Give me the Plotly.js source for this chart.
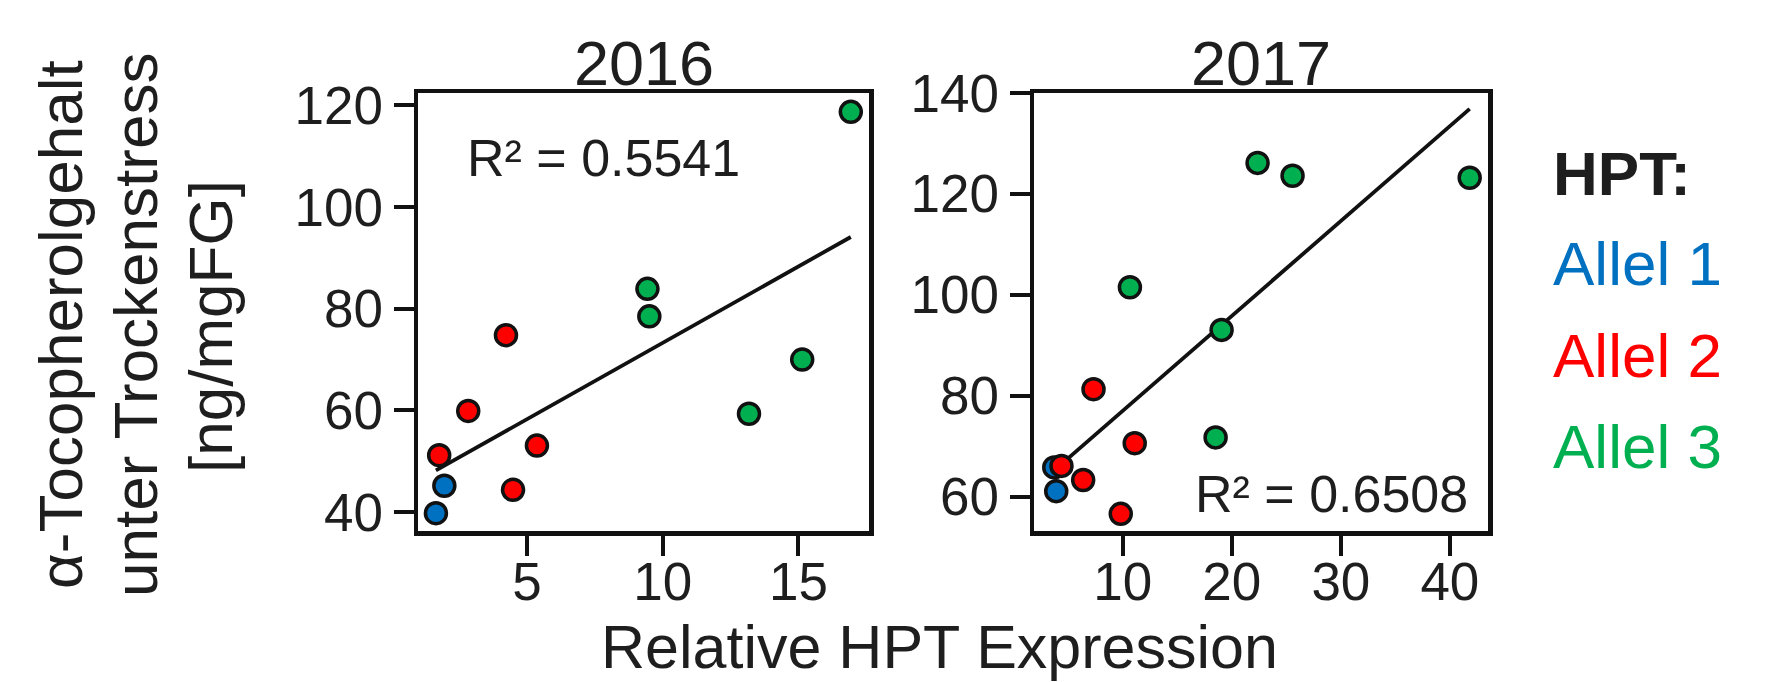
<!DOCTYPE html>
<html>
<head>
<meta charset="utf-8">
<script src="https://cdn.plot.ly/plotly-3.0.1.min.js"></script>
<style>html,body{margin:0;padding:0;background:#fff;}#chart{width:1773px;height:682px;}</style>
</head>
<body>
<div id="chart"></div>
<script>
// ---- Data ----
const alleles = ["Allel 1", "Allel 2", "Allel 3"];
const alleleColors = ["#0070C0", "#FF0000", "#00B050"];

// 2016
const x2016_a1 = [1.96, 1.65];
const y2016_a1 = [45.2, 39.8];
const x2016_a2 = [4.23, 2.84, 1.77, 5.37, 4.49];
const y2016_a2 = [74.8, 59.9, 51.2, 53.1, 44.4];
const x2016_a3 = [16.93, 9.44, 9.51, 15.14, 13.18];
const y2016_a3 = [118.7, 83.9, 78.5, 70.0, 59.35];

// 2017
const x2017_a1 = [3.71, 3.89];
const y2017_a1 = [65.8, 61.1];
const x2017_a2 = [7.31, 11.09, 4.37, 6.36, 9.81];
const y2017_a2 = [81.3, 70.6, 66.1, 63.3, 56.6];
const x2017_a3 = [22.36, 25.57, 41.82, 10.65, 19.06, 18.51];
const y2017_a3 = [126.15, 123.6, 123.2, 101.5, 93.05, 71.75];

const years = ["2016", "2017"];
const r2Labels = ["R² = 0.5541", "R² = 0.6508"];
const xTicks2016 = [5, 10, 15];
const yTicks2016 = [40, 60, 80, 100, 120];
const xTicks2017 = [10, 20, 30, 40];
const yTicks2017 = [60, 80, 100, 120, 140];
const xAxisTitle = "Relative HPT Expression";
const yAxisTitleLines = ["α-Tocopherolgehalt", "unter Trockenstress", "[ng/mgFG]"];
const legendTitle = "HPT:";

// ---- Helpers ----
const W = 1773, H = 682;
const px = v => v / W;
const py = v => 1 - v / H;
const FONT = "Liberation Sans, Arial, sans-serif";
const TXT = "#1e1e1e";

function fitLine(xs, ys) {
  const n = xs.length;
  const mx = xs.reduce((a, b) => a + b, 0) / n;
  const my = ys.reduce((a, b) => a + b, 0) / n;
  let sxy = 0, sxx = 0;
  for (let i = 0; i < n; i++) { sxy += (xs[i] - mx) * (ys[i] - my); sxx += (xs[i] - mx) ** 2; }
  const b = sxy / sxx, a = my - b * mx;
  const x0 = Math.min(...xs), x1 = Math.max(...xs);
  return { x: [x0, x1], y: [a + b * x0, a + b * x1] };
}

const traces = [];
function addPanel(xs, ys, xa, ya) {
  const allX = [].concat(...xs), allY = [].concat(...ys);
  const f = fitLine(allX, allY);
  traces.push({ x: f.x, y: f.y, mode: "lines", xaxis: xa, yaxis: ya,
    line: { color: "#111", width: 3.8 }, showlegend: false, hoverinfo: "skip" });
  for (let k = 0; k < 3; k++) {
    traces.push({ x: xs[k], y: ys[k], mode: "markers", xaxis: xa, yaxis: ya, name: alleles[k],
      showlegend: false,
      marker: { color: alleleColors[k], size: 21, line: { color: "#111", width: 3.5 } } });
  }
}
addPanel([x2016_a1, x2016_a2, x2016_a3], [y2016_a1, y2016_a2, y2016_a3], "x", "y");
addPanel([x2017_a1, x2017_a2, x2017_a3], [y2017_a1, y2017_a2, y2017_a3], "x2", "y2");

const axBase = {
  showline: true, mirror: true, linecolor: "#111", linewidth: 4.5,
  ticks: "outside", ticklen: 20, tickwidth: 4, tickcolor: "#111",
  showgrid: false, zeroline: false,
  tickfont: { family: FONT, size: 53, color: TXT }
};
const xAx = Object.assign({}, axBase, { ticklabelstandoff: -19 });

const dom1 = [px(418), px(869)], dom2 = [px(1034), px(1488)];
const ydom = [py(531), py(93)];

function ann(text, x, y, size, color, xanchor, extra) {
  return Object.assign({ text: text, xref: "paper", yref: "paper", x: px(x), y: py(y),
    xanchor: xanchor || "center", yanchor: "middle", showarrow: false,
    font: { family: FONT, size: size, color: color || TXT } }, extra || {});
}

const layout = {
  width: W, height: H,
  margin: { l: 0, r: 0, t: 0, b: 0 },
  paper_bgcolor: "#fff", plot_bgcolor: "#fff",
  showlegend: false,
  xaxis: Object.assign({}, xAx, { domain: dom1, range: [0.99, 17.6], tickvals: xTicks2016, anchor: "y" }),
  yaxis: Object.assign({}, axBase, { domain: ydom, range: [36.3, 122.4], tickvals: yTicks2016, anchor: "x" }),
  xaxis2: Object.assign({}, xAx, { domain: dom2, range: [1.85, 43.5], tickvals: xTicks2017, anchor: "y2" }),
  yaxis2: Object.assign({}, axBase, { domain: ydom, range: [53.2, 140], tickvals: yTicks2017, anchor: "x2" }),
  annotations: [
    ann(years[0], 644, 63, 63),
    ann(years[1], 1261, 63, 63),
    ann(r2Labels[0], 465, 158, 52, TXT, "left"),
    ann(r2Labels[1], 1470, 494, 52, TXT, "right"),
    ann(xAxisTitle, 939, 647, 61),
    ann(yAxisTitleLines[0], 60, 325, 62, TXT, "center", { textangle: -90 }),
    ann(yAxisTitleLines[1], 135, 325, 62, TXT, "center", { textangle: -90 }),
    ann(yAxisTitleLines[2], 210, 327, 62, TXT, "center", { textangle: -90 }),
    ann("<b>" + legendTitle + "</b>", 1551, 173, 62, TXT, "left"),
    ann(alleles[0], 1551, 263, 62, alleleColors[0], "left"),
    ann(alleles[1], 1551, 355, 62, alleleColors[1], "left"),
    ann(alleles[2], 1551, 446, 62, alleleColors[2], "left")
  ]
};

Plotly.newPlot("chart", traces, layout, { displayModeBar: false, staticPlot: true });
</script>
</body>
</html>
